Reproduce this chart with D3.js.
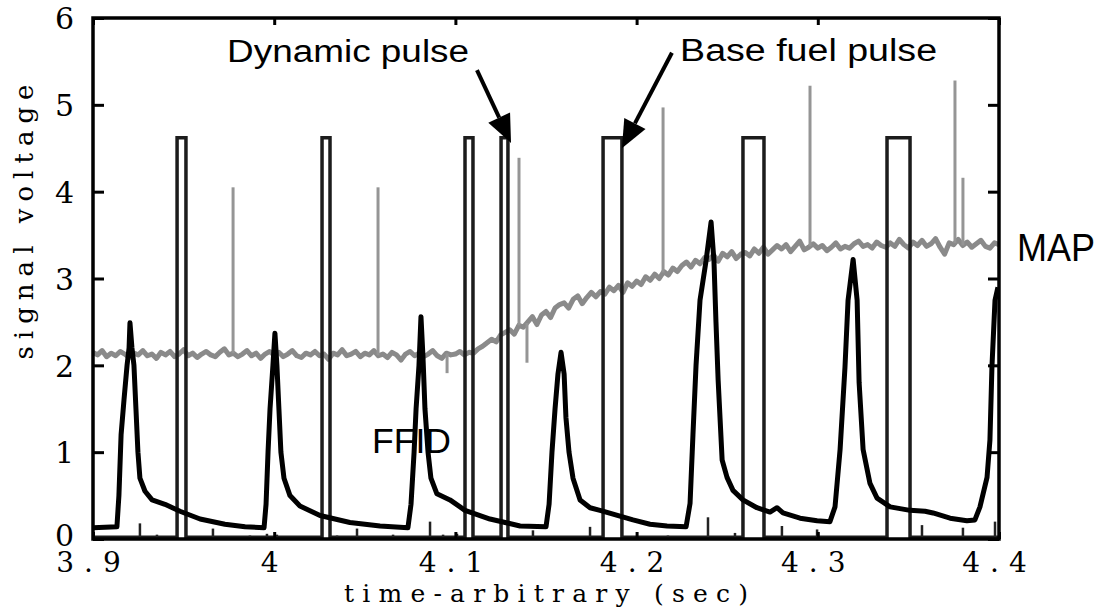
<!DOCTYPE html>
<html>
<head>
<meta charset="utf-8">
<script src="https://cdn.jsdelivr.net/npm/d3@7"></script>
<style>
  body { margin: 0; background: #fff; }
  .tick line { stroke: #000; stroke-width: 3; }
</style>
</head>
<body>
<div id="my_dataviz"></div>
<script>
// axis ticks
var xTicks = [3.9, 4.0, 4.1, 4.2, 4.3, 4.4];
var yTicks = [0, 1, 2, 3, 4, 5, 6];

// injector pulses (sec) and their height (V)
var pulseStart = [3.9464, 4.0264, 4.1053, 4.1252, 4.1815, 4.2587, 4.3382];
var pulseEnd   = [3.9513, 4.0308, 4.1097, 4.1290, 4.1919, 4.2703, 4.3509];
var pulseTop   = [4.62, 4.62, 4.62, 4.62, 4.62, 4.62, 4.62];

// small blips on the injector baseline
var blipT = [3.9259, 3.9353, 3.9662, 3.9866, 3.9960, 4.0015, 4.0347, 4.0457, 4.0656, 4.0860, 4.0932,
             4.1009, 4.1428, 4.1743, 4.1980, 4.2173, 4.2394, 4.2543, 4.2802, 4.2996, 4.3575, 4.3801, 4.3978];
var blipV = [0.18, 0.05, 0.12, 0.04, 0.06, 0.05, 0.04, 0.12, 0.05, 0.20, 0.05,
             0.06, 0.10, 0.14, 0.03, 0.04, 0.25, 0.07, 0.15, 0.11, 0.16, 0.13, 0.20];

// MAP trace, one sample every 2.5 ms from 3.9 s
var mapStep = 0.0025;
var mapV = [
  2.15,2.12,2.17,2.10,2.14,2.11,2.16,2.13,
  2.09,2.14,2.12,2.17,2.11,2.13,2.08,2.15,
  2.12,2.16,2.10,2.13,2.18,2.11,2.14,2.09,
  2.13,2.16,2.12,2.10,2.15,2.19,2.12,2.14,
  2.10,2.13,2.17,2.11,2.14,2.08,2.13,2.16,
  2.12,2.15,2.10,2.13,2.17,2.11,2.09,2.14,
  2.12,2.16,2.11,2.13,2.07,2.14,2.12,2.18,
  2.11,2.13,2.16,2.10,2.14,2.12,2.17,2.11,
  2.13,2.09,2.15,2.12,2.06,2.13,2.16,2.11,
  2.14,2.10,2.13,2.17,2.11,2.08,2.14,2.12,
  2.13,2.16,2.12,2.15,2.14,2.19,2.22,2.26,
  2.30,2.27,2.35,2.38,2.41,2.36,2.46,2.44,
  2.50,2.56,2.47,2.58,2.62,2.55,2.66,2.70,
  2.72,2.66,2.76,2.80,2.71,2.78,2.84,2.79,
  2.85,2.82,2.90,2.86,2.92,2.84,2.95,2.91,
  2.97,2.93,3.02,2.98,3.05,3.00,3.08,3.04,
  3.12,3.08,3.15,3.19,3.13,3.21,3.17,3.24,
  3.22,3.27,3.20,3.29,3.25,3.31,3.23,3.28,
  3.30,3.26,3.34,3.29,3.36,3.28,3.33,3.38,
  3.34,3.39,3.31,3.37,3.43,3.33,3.36,3.40,
  3.35,3.38,3.32,3.36,3.41,3.34,3.37,3.35,
  3.40,3.43,3.37,3.39,3.35,3.42,3.38,3.36,
  3.41,3.37,3.45,3.39,3.35,3.42,3.38,3.44,
  3.37,3.40,3.46,3.36,3.28,3.41,3.39,3.45,
  3.38,3.42,3.36,3.40,3.44,3.37,3.35,3.41,
  3.39
];
var mapData = mapV.map(function(v, i) { return [3.9 + i * mapStep, v]; });

// single-sample spikes on MAP
var mapSpikeT = [3.9773, 4.0573, 4.0954, 4.1351, 4.1395, 4.2146, 4.2957, 4.3757, 4.3801];
var mapSpikeV = [4.05, 4.05, 1.91, 4.39, 2.03, 4.97, 5.22, 5.28, 4.16];

// FFID trace [sec, V]
var ffid = [
  [3.9000,0.13],[3.9132,0.14],[3.9143,0.50],[3.9155,1.20],[3.9171,1.60],[3.9188,2.00],[3.9199,2.20],[3.9204,2.49],
  [3.9215,2.20],[3.9226,2.00],[3.9237,1.50],[3.9248,1.00],[3.9259,0.70],[3.9287,0.55],[3.9326,0.45],[3.9397,0.40],
  [3.9480,0.32],[3.9591,0.23],[3.9728,0.17],[3.9839,0.14],[3.9944,0.13],
  [3.9955,0.40],[3.9966,1.00],[3.9977,1.50],[3.9993,2.00],[4.0004,2.37],[4.0015,2.00],[4.0026,1.50],[4.0037,1.00],
  [4.0054,0.70],[4.0087,0.50],[4.0142,0.38],[4.0253,0.27],[4.0418,0.19],[4.0584,0.15],[4.0738,0.13],
  [4.0755,0.40],[4.0772,1.00],[4.0783,1.50],[4.0799,2.00],[4.0810,2.56],[4.0821,2.10],[4.0832,1.50],[4.0849,1.00],
  [4.0865,0.70],[4.0898,0.52],[4.0970,0.45],[4.1053,0.33],[4.1191,0.23],[4.1357,0.15],[4.1500,0.14],
  [4.1517,0.40],[4.1533,1.00],[4.1550,1.50],[4.1566,1.90],[4.1583,2.15],[4.1600,1.90],[4.1610,1.40],[4.1627,1.00],
  [4.1649,0.70],[4.1688,0.45],[4.1743,0.36],[4.1798,0.33],[4.1980,0.22],[4.2074,0.17],[4.2168,0.15],[4.2273,0.14],
  [4.2295,0.41],[4.2311,1.20],[4.2328,2.00],[4.2350,2.75],[4.2383,3.20],[4.2411,3.65],[4.2427,3.20],[4.2438,2.50],
  [4.2450,1.83],[4.2472,0.91],[4.2499,0.71],[4.2532,0.56],[4.2587,0.45],[4.2664,0.36],[4.2736,0.31],[4.2775,0.36],
  [4.2808,0.30],[4.2902,0.24],[4.2996,0.21],[4.3067,0.20],
  [4.3095,0.37],[4.3123,1.03],[4.3150,1.98],[4.3167,2.75],[4.3195,3.22],[4.3217,2.75],[4.3228,1.80],[4.3250,1.03],
  [4.3288,0.64],[4.3327,0.47],[4.3399,0.37],[4.3509,0.33],[4.3592,0.32],[4.3636,0.30],[4.3730,0.24],[4.3823,0.21],
  [4.3867,0.22],[4.3895,0.37],[4.3934,0.71],[4.3950,1.14],[4.3961,1.98],[4.3978,2.75],[4.3994,2.90]
];

var serif = "'DejaVu Serif', 'Liberation Serif', serif";
var sans = "'Liberation Sans', Arial, sans-serif";

// Graph dimension
var margin = {top: 18, right: 103, bottom: 73, left: 93},
    width = 1102 - margin.left - margin.right,
    height = 612 - margin.top - margin.bottom;

var svg = d3.select("#my_dataviz")
  .append("svg")
    .attr("width", 1102)
    .attr("height", 612)
  .append("g")
    .attr("transform", "translate(" + margin.left + "," + margin.top + ")");

var x = d3.scaleLinear().domain([3.9, 4.4]).range([0, width]);
var y = d3.scaleLinear().domain([0, 6]).range([height, 0]);

svg.append("clipPath").attr("id", "clip")
  .append("rect").attr("width", width).attr("height", height);

var plot = svg.append("g").attr("clip-path", "url(#clip)");
var line = d3.line().x(function(d) { return x(d[0]); }).y(function(d) { return y(d[1]); });

// MAP
plot.append("path")
  .datum(mapData)
  .attr("d", line)
  .attr("fill", "none")
  .attr("stroke", "#8a8a8a")
  .attr("stroke-width", 5)
  .attr("stroke-linejoin", "round");

var mapAt = function(t) {
  var i = d3.bisector(function(d) { return d[0]; }).left(mapData, t);
  i = Math.max(1, Math.min(mapData.length - 1, i));
  var a = mapData[i - 1], b = mapData[i];
  return a[1] + (b[1] - a[1]) * (t - a[0]) / (b[0] - a[0]);
};

plot.selectAll(".mapspike")
  .data(mapSpikeT)
  .enter()
  .append("line")
    .attr("x1", function(d) { return x(d); })
    .attr("x2", function(d) { return x(d); })
    .attr("y1", function(d) { return y(mapAt(d)); })
    .attr("y2", function(d, i) { return y(mapSpikeV[i]); })
    .attr("stroke", "#959595")
    .attr("stroke-width", 3);

// injector trace: baseline + rectangular pulses
var inj = [[3.9, 0.02]];
pulseStart.forEach(function(s, i) {
  inj.push([s, 0.02], [s, pulseTop[i]], [pulseEnd[i], pulseTop[i]], [pulseEnd[i], 0.02]);
});
inj.push([4.4, 0.02]);

plot.append("path")
  .datum(inj)
  .attr("d", line)
  .attr("fill", "none")
  .attr("stroke", "#1c1c1c")
  .attr("stroke-width", 3.5);

plot.selectAll(".blip")
  .data(blipT)
  .enter()
  .append("line")
    .attr("x1", function(d) { return x(d); })
    .attr("x2", function(d) { return x(d); })
    .attr("y1", y(0))
    .attr("y2", function(d, i) { return y(blipV[i]); })
    .attr("stroke", "#222")
    .attr("stroke-width", 2.5);

// FFID
plot.append("path")
  .datum(ffid)
  .attr("d", line)
  .attr("fill", "none")
  .attr("stroke", "#000")
  .attr("stroke-width", 5)
  .attr("stroke-linejoin", "round");

// frame + inward ticks
svg.append("rect")
  .attr("width", width)
  .attr("height", height)
  .attr("fill", "none")
  .attr("stroke", "#000")
  .attr("stroke-width", 3.5);

var fmtX = function(d) { return Math.abs(d - 4) < 1e-9 ? "4" : d.toFixed(1); };

var gx = svg.append("g")
  .attr("transform", "translate(0," + height + ")")
  .call(d3.axisBottom(x).tickValues(xTicks).tickSize(-7).tickPadding(13).tickFormat(fmtX))
  .attr("font-family", serif)
  .attr("font-size", 28);
gx.selectAll("text")
  .style("letter-spacing", "10px")
  .attr("fill", "#000");

svg.append("g")
  .call(d3.axisTop(x).tickValues(xTicks).tickSize(-7).tickFormat(""));

var gy = svg.append("g")
  .call(d3.axisLeft(y).tickValues(yTicks).tickSize(-11).tickPadding(19).tickFormat(d3.format("d")))
  .attr("font-family", serif)
  .attr("font-size", 30);
gy.selectAll("text")
  .attr("dy", function(d) { return d === 0 ? "0.22em" : "0.36em"; })
  .attr("fill", "#000");

svg.append("g")
  .attr("transform", "translate(" + width + ",0)")
  .call(d3.axisRight(y).tickValues(yTicks).tickSize(-11).tickFormat(""));

svg.selectAll(".domain").remove();

// axis titles
svg.append("text")
  .attr("x", width / 2)
  .attr("y", height + 63)
  .attr("text-anchor", "middle")
  .attr("textLength", 404)
  .attr("lengthAdjust", "spacing")
  .attr("font-family", serif)
  .attr("font-size", 25)
  .text("time-arbitrary (sec)");

svg.append("text")
  .attr("transform", "translate(" + (33 - margin.left) + "," + (222 - margin.top) + ") rotate(-90)")
  .attr("text-anchor", "middle")
  .attr("textLength", 275)
  .attr("lengthAdjust", "spacing")
  .attr("font-family", serif)
  .attr("font-size", 26)
  .text("signal voltage");

// annotations
function label(t, v, txt, size, len) {
  svg.append("text")
    .attr("x", x(t))
    .attr("y", y(v))
    .attr("textLength", len)
    .attr("lengthAdjust", "spacingAndGlyphs")
    .attr("font-family", sans)
    .attr("font-size", size)
    .text(txt);
}
label(3.9740, 5.49, "Dynamic pulse", 31, 242);
label(4.2240, 5.50, "Base fuel pulse", 31, 257);
label(4.4100, 3.20, "MAP", 38, 78);
label(4.0540, 0.99, "FFID", 35, 79);

function arrow(t1, v1, t2, v2) {
  var x1 = x(t1), y1 = y(v1), x2 = x(t2), y2 = y(v2);
  var a = Math.atan2(y2 - y1, x2 - x1), L = 28, W = 12;
  var bx = x2 - L * Math.cos(a), by = y2 - L * Math.sin(a);
  svg.append("line")
    .attr("x1", x1).attr("y1", y1).attr("x2", bx).attr("y2", by)
    .attr("stroke", "#000").attr("stroke-width", 4);
  svg.append("path")
    .attr("d", "M" + x2 + "," + y2 +
               "L" + (bx + W * Math.sin(a)) + "," + (by - W * Math.cos(a)) +
               "L" + (bx - W * Math.sin(a)) + "," + (by + W * Math.cos(a)) + "Z")
    .attr("fill", "#000");
}
arrow(4.1119, 5.40, 4.1307, 4.56);
arrow(4.2195, 5.60, 4.1919, 4.50);
</script>
</body>
</html>
